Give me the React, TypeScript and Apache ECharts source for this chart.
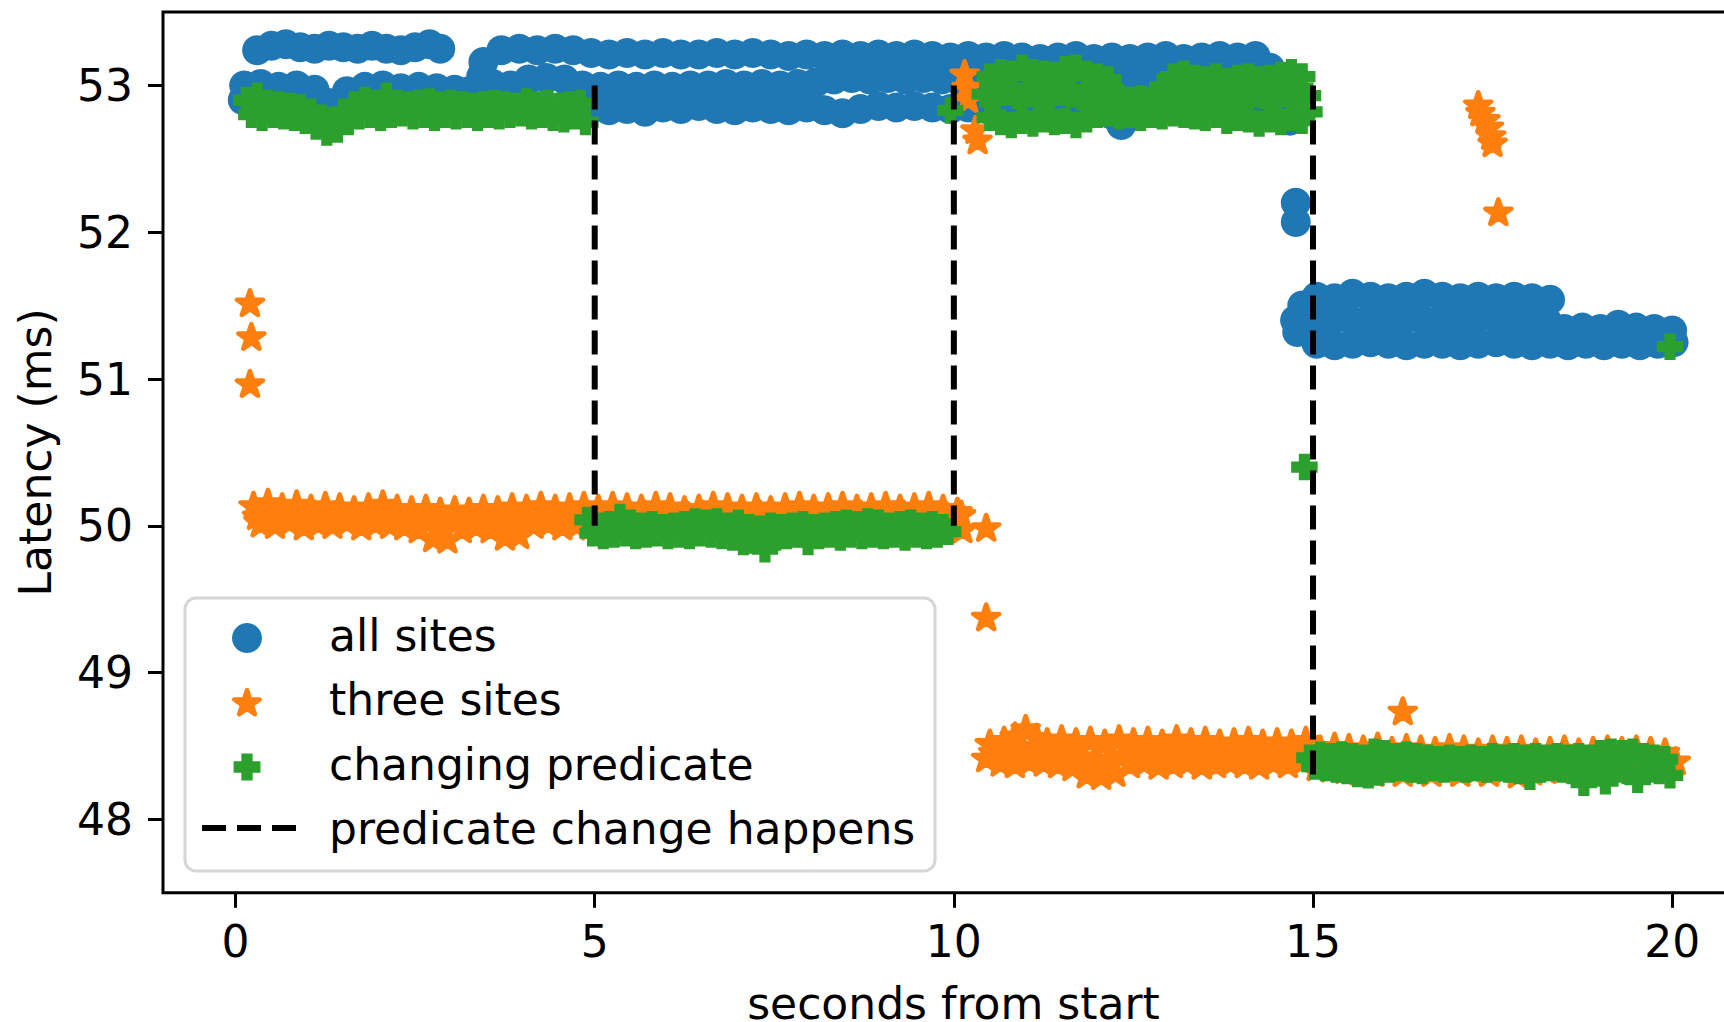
import React, { useEffect, useRef } from "react";
import * as echarts from "echarts";

const xTicks = [0, 5, 10, 15, 20];
const yTicks = [48, 49, 50, 51, 52, 53];

// ---------- all sites (blue circles) ----------
const allSitesTopLeft = [[0.3,53.24],[0.5,53.27],[0.7,53.28],[0.9,53.26],[1.1,53.25],[1.3,53.27],[1.5,53.26],[1.7,53.25],[1.9,53.27],[2.1,53.25],[2.3,53.24],[2.5,53.26],[2.7,53.28],[2.85,53.25]];
const allSitesLowLeft = [[0.1,52.9],[0.12,53.0],[0.35,53.01],[0.6,52.99],[0.85,53.0],[1.1,52.97],[1.3,52.88],[1.55,52.96],[1.8,52.99],[2.05,53.0],[2.3,52.98],[2.55,52.99],[2.8,52.98],[3.05,52.97],[3.25,52.96]];
const allSitesBandTop = [[3.45,53.16],[3.7,53.24],[3.95,53.25],[4.2,53.24],[4.45,53.25],[4.7,53.24],[4.95,53.22],[5.2,53.21],[5.45,53.22],[5.7,53.21],[5.95,53.22],[6.2,53.21],[6.45,53.21],[6.7,53.22],[6.95,53.21],[7.2,53.22],[7.45,53.21],[7.7,53.2],[7.95,53.21],[8.2,53.2],[8.45,53.21],[8.7,53.2],[8.95,53.21],[9.2,53.2],[9.45,53.21],[9.7,53.2],[9.95,53.19],[10.2,53.2],[10.45,53.19],[10.7,53.2],[10.95,53.19],[11.2,53.18],[11.45,53.19],[11.7,53.2],[11.95,53.18],[12.2,53.19],[12.45,53.18],[12.7,53.19],[12.95,53.2],[13.2,53.18],[13.45,53.19],[13.7,53.2],[13.95,53.19],[14.2,53.2],[14.4,53.12]];
const allSitesBandMid = [[3.42,53.06],[3.58,53.01],[3.83,53.0],[4.08,53.04],[4.33,53.05],[4.58,53.04],[4.83,53.0],[5.08,52.99],[5.33,53.0],[5.58,52.99],[5.83,53.0],[6.08,52.99],[6.33,53.0],[6.58,53.0],[6.83,53.01],[7.08,53.0],[7.33,53.01],[7.58,53.0],[7.83,53.01],[8.08,53.02],[8.33,53.04],[8.58,53.05],[8.83,53.04],[9.08,53.05],[9.33,53.04],[9.58,53.05],[9.83,53.04],[10.08,53.03],[10.33,53.02],[10.58,53.03],[10.83,53.02],[11.08,53.03],[11.33,53.02],[11.58,53.03],[11.83,53.02],[12.08,53.03],[12.33,53.02],[12.58,53.03],[12.83,53.02],[13.08,53.03],[13.33,53.02],[13.58,53.03],[13.83,53.02],[14.08,53.03],[14.33,53.0],[14.5,52.92]];
const allSitesBandLow = [[4.7,52.85],[4.95,52.84],[5.2,52.83],[5.45,52.84],[5.7,52.82],[5.95,52.85],[6.2,52.84],[6.45,52.86],[6.7,52.84],[6.95,52.83],[7.2,52.85],[7.45,52.84],[7.7,52.83],[7.95,52.85],[8.2,52.83],[8.45,52.81],[8.7,52.84],[8.95,52.86],[9.2,52.85],[9.45,52.86],[9.7,52.85],[9.95,52.84],[10.2,52.85],[10.45,52.84],[10.7,52.85],[10.95,52.84],[11.2,52.83],[11.45,52.84],[11.7,52.85],[11.95,52.84],[12.2,52.8],[12.33,52.73],[12.45,52.8],[12.7,52.84],[12.95,52.85],[13.2,52.84],[13.45,52.85],[13.7,52.84],[13.95,52.85],[14.2,52.83],[14.45,52.8],[14.68,52.76]];
const allSitesDrop = [[14.76,52.2],[14.76,52.07]];
const allSitesLateTop = [[14.85,51.5],[15.05,51.56],[15.3,51.55],[15.55,51.58],[15.8,51.56],[16.05,51.55],[16.3,51.56],[16.55,51.58],[16.8,51.56],[17.05,51.55],[17.3,51.56],[17.55,51.55],[17.8,51.56],[18.05,51.55],[18.3,51.54]];
const allSitesLateMid = [[14.75,51.4],[15.0,51.42],[15.25,51.4],[15.5,51.41],[15.75,51.4],[16.0,51.42],[16.25,51.4],[16.5,51.41],[16.75,51.4],[17.0,51.41],[17.25,51.4],[17.5,51.42],[17.75,51.4],[18.0,51.41],[18.25,51.4]];
const allSitesLateLow = [[14.78,51.32],[15.05,51.24],[15.3,51.23],[15.55,51.24],[15.8,51.25],[16.05,51.24],[16.3,51.23],[16.55,51.24],[16.8,51.24],[17.05,51.23],[17.3,51.24],[17.55,51.25],[17.8,51.24],[18.05,51.23],[18.3,51.24],[18.55,51.23],[18.8,51.24],[19.05,51.23],[19.3,51.24],[19.55,51.23],[19.8,51.24],[20.02,51.25]];
const allSitesTail = [[18.5,51.34],[18.75,51.35],[19.0,51.34],[19.25,51.37],[19.5,51.35],[19.75,51.34],[20.0,51.33]];

// ---------- three sites (orange stars) ----------
const threeSitesEarly = [[0.2,51.52],[0.22,51.29],[0.2,50.97]];
const threeSitesBandUpper = [[0.25,50.14],[0.45,50.16],[0.65,50.13],[0.85,50.15],[1.05,50.12],[1.25,50.14],[1.45,50.13],[1.65,50.11],[1.85,50.13],[2.05,50.15],[2.25,50.12],[2.45,50.11],[2.65,50.12],[2.85,50.1],[3.05,50.11],[3.25,50.1],[3.45,50.12],[3.65,50.11],[3.85,50.13],[4.05,50.12],[4.25,50.14],[4.45,50.12],[4.65,50.13],[4.85,50.14],[5.05,50.12],[5.25,50.14],[5.45,50.13],[5.65,50.12],[5.85,50.14],[6.05,50.13],[6.25,50.11],[6.45,50.12],[6.65,50.14],[6.85,50.13],[7.05,50.12],[7.25,50.13],[7.45,50.11],[7.65,50.13],[7.85,50.14],[8.05,50.12],[8.25,50.13],[8.45,50.14],[8.65,50.12],[8.85,50.13],[9.05,50.14],[9.25,50.12],[9.45,50.13],[9.65,50.14],[9.85,50.12],[10.05,50.1],[10.1,50.08]];
const threeSitesBandMid = [[0.3,50.07],[0.5,50.08],[0.7,50.06],[0.9,50.07],[1.1,50.08],[1.3,50.06],[1.5,50.07],[1.7,50.06],[1.9,50.07],[2.1,50.08],[2.3,50.06],[2.5,50.05],[2.7,50.03],[2.9,50.0],[3.1,50.04],[3.3,50.05],[3.5,50.06],[3.7,50.02],[3.9,50.03],[4.1,50.06],[4.3,50.07],[4.5,50.06],[4.7,50.07],[4.9,50.08],[5.1,50.07],[5.3,50.06],[5.5,50.07],[5.7,50.08],[5.9,50.07],[6.1,50.06],[6.3,50.07],[6.5,50.08],[6.7,50.07],[6.9,50.06],[7.1,50.07],[7.3,50.08],[7.5,50.06],[7.7,50.07],[7.9,50.08],[8.1,50.07],[8.3,50.06],[8.5,50.07],[8.7,50.08],[8.9,50.06],[9.1,50.07],[9.3,50.08],[9.5,50.07],[9.7,50.06],[9.9,50.07]];
const threeSitesBandLower = [[0.35,50.02],[0.55,50.01],[0.75,50.03],[0.95,50.0],[1.15,50.02],[1.35,50.01],[1.55,50.03],[1.75,50.0],[1.95,50.02],[2.15,50.01],[2.35,50.0],[2.55,49.98],[2.75,49.92],[2.95,49.91],[3.15,49.98],[3.35,50.0],[3.55,49.98],[3.75,49.93],[3.95,49.94],[4.15,50.01],[4.35,50.02],[4.55,50.0],[4.75,50.01],[4.95,50.0],[5.15,50.01],[5.35,50.0],[5.55,50.01],[5.75,50.0],[5.95,50.02],[6.15,50.0],[6.35,50.01],[6.55,50.0],[6.75,50.02],[6.95,50.01],[7.15,50.0],[7.35,50.01],[7.55,50.0],[7.75,50.02],[7.95,50.01],[8.15,50.0],[8.35,50.01],[8.55,50.02],[8.75,50.0],[8.95,50.01],[9.15,50.0],[9.35,50.02],[9.55,50.01],[9.75,50.0],[9.95,50.02],[10.12,49.98]];
const threeSitesSpike = [[10.15,53.08],[10.18,52.99],[10.2,52.91],[10.3,52.7],[10.33,52.63]];
const threeSitesStray = [[10.45,49.99],[10.45,49.38],[16.25,48.74],[17.58,52.14]];
const threeSitesCluster = [[17.3,52.87],[17.33,52.82],[17.4,52.77],[17.45,52.72],[17.48,52.66],[17.5,52.61]];
const threeSitesLateUpper = [[10.5,48.52],[10.7,48.54],[10.85,48.57],[11.0,48.62],[11.15,48.56],[11.3,48.53],[11.5,48.55],[11.7,48.53],[11.9,48.54],[12.1,48.52],[12.3,48.55],[12.5,48.53],[12.7,48.54],[12.9,48.52],[13.1,48.55],[13.3,48.53],[13.5,48.54],[13.7,48.52],[13.9,48.53],[14.1,48.54],[14.3,48.52],[14.5,48.53],[14.7,48.52],[14.9,48.54],[15.1,48.48],[15.3,48.5],[15.5,48.49],[15.7,48.48],[15.9,48.5],[16.1,48.47],[16.3,48.49],[16.5,48.48],[16.7,48.47],[16.9,48.49],[17.1,48.48],[17.3,48.46],[17.5,48.48],[17.7,48.47],[17.9,48.48],[18.1,48.46],[18.3,48.47],[18.5,48.48],[18.7,48.46],[18.9,48.47],[19.1,48.48],[19.3,48.47],[19.5,48.48],[19.7,48.47],[19.9,48.46]];
const threeSitesLateMid = [[10.55,48.46],[10.75,48.47],[10.95,48.5],[11.15,48.47],[11.35,48.46],[11.55,48.45],[11.75,48.43],[11.95,48.4],[12.15,48.41],[12.35,48.44],[12.55,48.46],[12.75,48.45],[12.95,48.46],[13.15,48.45],[13.35,48.46],[13.55,48.45],[13.75,48.46],[13.95,48.45],[14.15,48.46],[14.35,48.45],[14.55,48.46],[14.75,48.45],[14.95,48.46]];
const threeSitesLateLower = [[10.45,48.42],[10.65,48.39],[10.85,48.38],[11.05,48.4],[11.25,48.39],[11.45,48.38],[11.65,48.36],[11.85,48.31],[12.05,48.3],[12.25,48.32],[12.45,48.38],[12.65,48.39],[12.85,48.37],[13.05,48.38],[13.25,48.39],[13.45,48.37],[13.65,48.38],[13.85,48.39],[14.05,48.38],[14.25,48.37],[14.45,48.39],[14.65,48.38],[14.85,48.4],[15.05,48.36],[15.25,48.35],[15.45,48.34],[15.65,48.33],[15.85,48.32],[16.05,48.33],[16.25,48.32],[16.45,48.33],[16.65,48.32],[16.85,48.33],[17.05,48.32],[17.25,48.33],[17.45,48.32],[17.65,48.33],[17.85,48.31],[18.05,48.33],[18.25,48.34],[18.45,48.35],[18.65,48.34],[18.85,48.35],[19.05,48.34],[19.25,48.35],[19.45,48.36],[19.65,48.35],[19.85,48.36],[20.05,48.4]];

// ---------- changing predicate (green plus) ----------
const changingEarlyUpper = [[0.15,52.9],[0.3,52.93],[0.45,52.88],[0.6,52.87],[0.75,52.86],[0.9,52.85],[1.05,52.82],[1.2,52.78],[1.35,52.76],[1.5,52.82],[1.65,52.87],[1.8,52.9],[1.95,52.88],[2.1,52.93],[2.25,52.88],[2.4,52.87],[2.55,52.88],[2.7,52.89],[2.85,52.87],[3.0,52.88],[3.15,52.87],[3.3,52.86],[3.45,52.87],[3.6,52.88],[3.75,52.87],[3.9,52.86],[4.05,52.89],[4.2,52.87],[4.35,52.88],[4.5,52.86],[4.65,52.87],[4.8,52.88]];
const changingEarlyLower = [[0.22,52.8],[0.37,52.78],[0.52,52.8],[0.67,52.79],[0.82,52.78],[0.97,52.76],[1.12,52.72],[1.27,52.68],[1.42,52.7],[1.57,52.75],[1.72,52.79],[1.87,52.8],[2.02,52.78],[2.17,52.8],[2.32,52.81],[2.47,52.79],[2.62,52.8],[2.77,52.78],[2.92,52.8],[3.07,52.79],[3.22,52.8],[3.37,52.78],[3.52,52.8],[3.67,52.79],[3.82,52.8],[3.97,52.81],[4.12,52.79],[4.27,52.8],[4.42,52.78],[4.57,52.77],[4.72,52.79],[4.87,52.75]];
const changingMidUpper = [[4.9,50.04],[5.05,50.0],[5.2,50.01],[5.35,50.06],[5.5,50.02],[5.65,50.0],[5.8,50.01],[5.95,49.99],[6.1,50.0],[6.25,50.01],[6.4,50.03],[6.55,50.02],[6.7,50.03],[6.85,50.0],[7.0,50.02],[7.15,49.99],[7.3,49.98],[7.45,50.0],[7.6,49.99],[7.75,50.0],[7.9,50.01],[8.05,49.99],[8.2,50.0],[8.35,50.01],[8.5,50.02],[8.65,50.01],[8.8,50.03],[8.95,50.02],[9.1,50.0],[9.25,50.01],[9.4,50.02],[9.55,50.0],[9.7,50.01],[9.85,49.99]];
const changingMidLower = [[4.97,49.95],[5.12,49.93],[5.27,49.94],[5.42,49.95],[5.57,49.93],[5.72,49.94],[5.87,49.95],[6.02,49.93],[6.17,49.94],[6.32,49.93],[6.47,49.95],[6.62,49.94],[6.77,49.93],[6.92,49.92],[7.07,49.89],[7.22,49.9],[7.37,49.84],[7.52,49.92],[7.67,49.93],[7.82,49.94],[7.97,49.89],[8.12,49.93],[8.27,49.94],[8.42,49.92],[8.57,49.94],[8.72,49.93],[8.87,49.94],[9.02,49.93],[9.17,49.94],[9.32,49.92],[9.47,49.94],[9.62,49.93],[9.77,49.94],[9.92,49.96]];
const changingLateTop = [[10.5,53.06],[10.65,53.09],[10.8,53.08],[10.95,53.12],[11.1,53.09],[11.25,53.08],[11.4,53.07],[11.55,53.11],[11.7,53.12],[11.85,53.08],[12.0,53.06],[12.15,53.04],[12.3,52.92],[12.45,52.9],[12.6,52.91],[12.75,52.9],[12.9,52.99],[13.05,53.06],[13.2,53.08],[13.35,53.05],[13.5,53.04],[13.65,53.06],[13.8,53.03],[13.95,53.05],[14.1,53.06],[14.25,53.04],[14.4,53.05],[14.55,53.07],[14.7,53.09],[14.85,53.06]];
const changingLateMid = [[10.43,52.94],[10.58,52.92],[10.73,52.95],[10.88,52.93],[11.03,52.94],[11.18,52.92],[11.33,52.93],[11.48,52.95],[11.63,52.94],[11.78,52.92],[11.93,52.93],[12.08,52.91],[12.23,52.9],[12.38,52.88],[12.53,52.87],[12.68,52.88],[12.83,52.9],[12.98,52.93],[13.13,52.95],[13.28,52.93],[13.43,52.92],[13.58,52.94],[13.73,52.91],[13.88,52.93],[14.03,52.92],[14.18,52.94],[14.33,52.93],[14.48,52.91],[14.63,52.94],[14.78,52.92],[14.93,52.93]];
const changingLateLow = [[10.5,52.78],[10.65,52.75],[10.8,52.73],[10.95,52.76],[11.1,52.74],[11.25,52.77],[11.4,52.75],[11.55,52.76],[11.7,52.73],[11.85,52.77],[12.0,52.8],[12.15,52.81],[12.3,52.79],[12.45,52.8],[12.6,52.78],[12.75,52.8],[12.9,52.79],[13.05,52.81],[13.2,52.8],[13.35,52.79],[13.5,52.78],[13.65,52.8],[13.8,52.76],[13.95,52.78],[14.1,52.77],[14.25,52.74],[14.4,52.77],[14.55,52.75],[14.7,52.78],[14.85,52.76],[14.95,52.82]];
const changingEndUpper = [[14.95,48.42],[15.1,48.44],[15.25,48.43],[15.4,48.44],[15.55,48.43],[15.7,48.42],[15.85,48.46],[16.0,48.45],[16.15,48.43],[16.3,48.44],[16.45,48.43],[16.6,48.42],[16.75,48.41],[16.9,48.42],[17.05,48.41],[17.2,48.42],[17.35,48.41],[17.5,48.43],[17.65,48.42],[17.8,48.43],[17.95,48.42],[18.1,48.43],[18.25,48.42],[18.4,48.43],[18.55,48.42],[18.7,48.43],[18.85,48.42],[19.0,48.45],[19.15,48.46],[19.3,48.45],[19.45,48.46],[19.6,48.43],[19.75,48.42],[19.9,48.41]];
const changingEndLower = [[15.02,48.36],[15.17,48.35],[15.32,48.34],[15.47,48.33],[15.62,48.31],[15.77,48.3],[15.92,48.32],[16.07,48.34],[16.22,48.35],[16.37,48.34],[16.52,48.33],[16.67,48.35],[16.82,48.34],[16.97,48.35],[17.12,48.34],[17.27,48.35],[17.42,48.34],[17.57,48.35],[17.72,48.34],[17.87,48.33],[18.02,48.29],[18.17,48.34],[18.32,48.35],[18.47,48.34],[18.62,48.33],[18.77,48.25],[18.92,48.33],[19.07,48.26],[19.22,48.34],[19.37,48.33],[19.52,48.27],[19.67,48.34],[19.82,48.33],[19.97,48.3]];
const changingStray = [[9.95,52.83],[14.88,50.4],[19.97,51.22]];

// ---------- predicate change markers (x, from, to) ----------
const changeTimes = [5, 10, 15];
const changeTop = [53, 53, 53];
const changeBottom = [50, 50, 48.28];

const legendLabels = ["all sites", "three sites", "changing predicate", "predicate change happens"];

const BLUE = "#1f77b4";
const ORANGE = "#ff7f0e";
const GREEN = "#2ca02c";
const FONT = "DejaVu Sans";
const STAR = "path://M100 0L122.45 69.1L195.1 69.1L136.33 111.8L158.8 180.9L100 138.2L41.2 180.9L63.67 111.8L4.9 69.1L77.55 69.1Z";
const PLUS = "path://M10 0L20 0L20 10L30 10L30 20L20 20L20 30L10 30L10 20L0 20L0 10L10 10Z";

function starPoints(cx: number, cy: number, R: number) {
  const pts: number[][] = [];
  for (let i = 0; i < 10; i++) {
    const r = i % 2 === 0 ? R : R * 0.382;
    const a = (i * Math.PI) / 5;
    pts.push([cx + r * Math.sin(a), cy - r * Math.cos(a)]);
  }
  return pts;
}
function plusPoints(cx: number, cy: number, h: number) {
  const a = h / 3;
  return [
    [cx - a, cy - h], [cx + a, cy - h], [cx + a, cy - a], [cx + h, cy - a], [cx + h, cy + a], [cx + a, cy + a],
    [cx + a, cy + h], [cx - a, cy + h], [cx - a, cy + a], [cx - h, cy + a], [cx - h, cy - a], [cx - a, cy - a],
  ];
}

export default function App() {
  const ref = useRef<HTMLDivElement>(null);
  useEffect(() => {
    if (!ref.current) return;
    const chart = echarts.init(ref.current, null, { renderer: "svg" });
    const allSites = [
      ...allSitesTopLeft, ...allSitesLowLeft, ...allSitesBandTop, ...allSitesBandMid, ...allSitesBandLow,
      ...allSitesDrop, ...allSitesLateTop, ...allSitesLateMid, ...allSitesLateLow, ...allSitesTail,
    ];
    const threeSites = [
      ...threeSitesEarly, ...threeSitesBandUpper, ...threeSitesBandMid, ...threeSitesBandLower, ...threeSitesSpike,
      ...threeSitesStray, ...threeSitesCluster, ...threeSitesLateUpper, ...threeSitesLateMid, ...threeSitesLateLower,
    ];
    const changing = [
      ...changingEarlyUpper, ...changingEarlyLower, ...changingMidUpper, ...changingMidLower,
      ...changingLateTop, ...changingLateMid, ...changingLateLow, ...changingEndUpper, ...changingEndLower, ...changingStray,
    ];
    const textStyle = { fontSize: 44, fontFamily: FONT, color: "#000" };
    const lineSeries = changeTimes.map((t, i) => ({
      type: "line",
      name: "predicate change happens",
      data: [[t, changeTop[i]], [t, changeBottom[i]]],
      symbol: "none",
      silent: true,
      z: 5,
      lineStyle: { color: "#000", width: 6, type: [24, 11] },
    }));
    const legendRows = [635, 699.5, 764, 828];
    const markerRows = [638, 702, 767, 828];
    const option: any = {
      animation: false,
      grid: {
        left: 163, top: 12, width: 1581, height: 880.8, show: true, borderColor: "#000", borderWidth: 3,
        containLabel: false, outerBoundsMode: "none",
      },
      xAxis: {
        type: "value", min: -1.01, max: 21.0,
        axisLine: { show: false, onZero: false },
        axisTick: { show: true, length: 15, lineStyle: { color: "#000", width: 3 }, customValues: xTicks },
        axisLabel: { ...textStyle, margin: 27, customValues: xTicks },
        splitLine: { show: false },
        name: "seconds from start", nameLocation: "middle", nameGap: 93,
        nameTextStyle: { ...textStyle, lineHeight: 36 },
      },
      yAxis: {
        type: "value", min: 47.5, max: 53.5,
        axisLine: { show: false, onZero: false },
        axisTick: { show: true, length: 15, lineStyle: { color: "#000", width: 3 }, customValues: yTicks },
        axisLabel: { ...textStyle, margin: 30, customValues: yTicks },
        splitLine: { show: false },
        name: "Latency (ms)", nameLocation: "middle", nameGap: 106,
        nameTextStyle: textStyle,
      },
      series: [
        { type: "scatter", name: legendLabels[0], data: allSites, symbol: "circle", symbolSize: 30, silent: true, itemStyle: { color: BLUE, opacity: 1 } },
        { type: "scatter", name: legendLabels[1], data: threeSites, symbol: STAR, symbolSize: [26, 24.7], silent: true, itemStyle: { color: ORANGE, opacity: 1, borderColor: ORANGE, borderWidth: 4.5, borderJoin: "round" } },
        { type: "scatter", name: legendLabels[2], data: changing, symbol: PLUS, symbolSize: 23, silent: true, itemStyle: { color: GREEN, opacity: 1, borderColor: GREEN, borderWidth: 3.5, borderJoin: "miter" } },
        ...lineSeries,
      ],
      graphic: [
        {
          type: "group", z: 100,
          children: [
            { type: "rect", shape: { x: 185, y: 598, width: 750, height: 273, r: 11 }, style: { fill: "#fff", stroke: "#d6d6d6", lineWidth: 3 } },
            { type: "circle", shape: { cx: 247, cy: markerRows[0], r: 15 }, style: { fill: BLUE } },
            { type: "polygon", shape: { points: starPoints(247, markerRows[1] + 1.5, 13.3) }, style: { fill: ORANGE, stroke: ORANGE, lineWidth: 4.5, lineJoin: "round" } },
            { type: "polygon", shape: { points: plusPoints(247, markerRows[2], 11.7) }, style: { fill: GREEN, stroke: GREEN, lineWidth: 3.5 } },
            { type: "line", shape: { x1: 202, y1: markerRows[3], x2: 296, y2: markerRows[3] }, style: { stroke: "#000", lineWidth: 6, lineDash: [24, 11] } },
            ...legendLabels.map((label, i) => ({
              type: "text", x: 329, y: legendRows[i],
              style: { text: label, fill: "#000", font: `44px "${FONT}"`, verticalAlign: "middle", align: "left" },
            })),
          ],
        },
      ],
    };
    chart.setOption(option);
    return () => chart.dispose();
  }, []);
  return (
    <div style={{ position: "fixed", left: 0, top: 0, width: 1724, height: 1022, overflow: "hidden", background: "#fff" }}>
      <div ref={ref} style={{ position: "absolute", left: 0, top: 0, width: 1800, height: 1022 }} />
    </div>
  );
}
